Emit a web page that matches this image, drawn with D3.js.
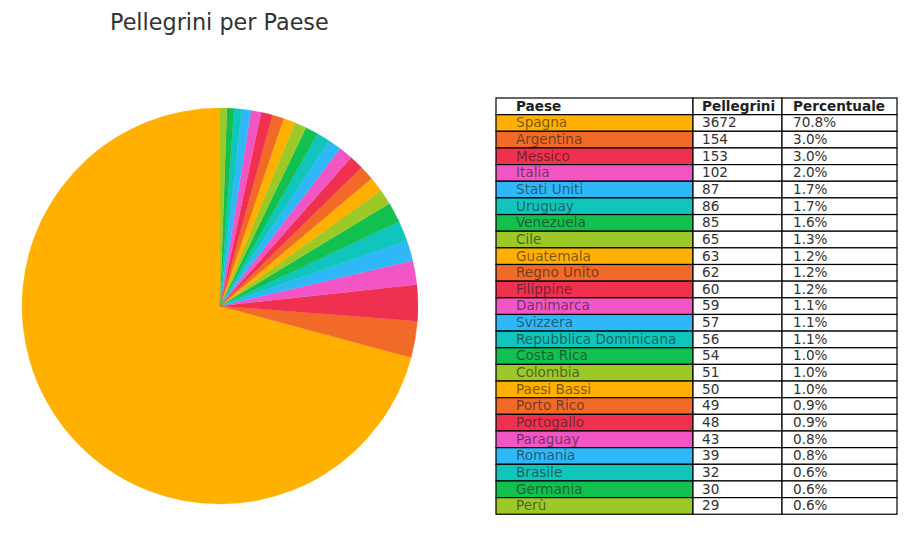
<!DOCTYPE html>
<html>
<head>
<meta charset="utf-8">
<script src="https://cdn.jsdelivr.net/npm/d3@7"></script>
<style>
  body { margin: 0; background: #fff; }
  svg text { font-family: "DejaVu Sans", sans-serif; }
</style>
</head>
<body>
<div id="chart"></div>
<script>
// chart data
var countries = ["Spagna", "Argentina", "Messico", "Italia", "Stati Uniti", "Uruguay",
  "Venezuela", "Cile", "Guatemala", "Regno Unito", "Filippine", "Danimarca", "Svizzera",
  "Repubblica Dominicana", "Costa Rica", "Colombia", "Paesi Bassi", "Porto Rico",
  "Portogallo", "Paraguay", "Romania", "Brasile", "Germania", "Perù"];
var pilgrims = [3672, 154, 153, 102, 87, 86, 85, 65, 63, 62, 60, 59, 57, 56, 54, 51,
  50, 49, 48, 43, 39, 32, 30, 29];
var percents = ["70.8%", "3.0%", "3.0%", "2.0%", "1.7%", "1.7%", "1.6%", "1.3%", "1.2%",
  "1.2%", "1.2%", "1.1%", "1.1%", "1.1%", "1.0%", "1.0%", "1.0%", "0.9%", "0.9%",
  "0.8%", "0.8%", "0.6%", "0.6%", "0.6%"];
var headers = ["Paese", "Pellegrini", "Percentuale"];
var palette = ["#ffb000", "#f26a28", "#f0304f", "#f255c4", "#2eb8f8", "#10c6bc", "#12c050", "#9cc828"];

var svgWidth = 914;
var svgHeight = 542;

var svg = d3.select("#chart")
  .append("svg")
  .attr("width", svgWidth)
  .attr("height", svgHeight);

var color = d3.scaleOrdinal()
  .domain(countries)
  .range(palette);

// title
svg.append("text")
  .attr("x", 110)
  .attr("y", 30)
  .attr("fill", "#333")
  .style("font-size", "22.3px")
  .text("Pellegrini per Paese");

// pie, counterclockwise from 12 o'clock
var rows = countries.map(function(c, i) {
  return { country: c, value: pilgrims[i], pct: percents[i] };
});

var pie = d3.pie()
  .sort(null)
  .value(d => d.value)
  .startAngle(0)
  .endAngle(-2 * Math.PI);

var arc = d3.arc()
  .innerRadius(0)
  .outerRadius(198);

var pieGroup = svg.append("g")
  .attr("transform", "translate(220, 306)");

pieGroup.selectAll("path")
  .data(pie(rows))
  .enter()
  .append("path")
  .attr("d", arc)
  .attr("fill", d => color(d.data.country))
  .attr("stroke", d => color(d.data.country))
  .attr("stroke-width", 0.3);

// table
var colX = [496, 693, 782, 897];
var textX = [516, 702, 793];
var tableTop = 98;
var rowH = 16.65;

var tableGroup = svg.append("g");

var rowScale = d3.scaleLinear()
  .domain([0, rows.length + 1])
  .range([tableTop, tableTop + rowH * (rows.length + 1)]);

// header
headers.forEach(function(h, j) {
  tableGroup.append("rect")
    .attr("x", colX[j])
    .attr("y", rowScale(0))
    .attr("width", colX[j + 1] - colX[j])
    .attr("height", rowH)
    .attr("fill", "#fff")
    .attr("stroke", "#000")
    .attr("stroke-width", 1.2);
  tableGroup.append("text")
    .attr("x", textX[j])
    .attr("y", rowScale(0) + rowH / 2)
    .attr("dy", "0.32em")
    .attr("fill", "#222")
    .style("font-size", "13.6px")
    .style("font-weight", "bold")
    .text(h);
});

var rowG = tableGroup.selectAll("g.row")
  .data(rows)
  .enter()
  .append("g")
  .classed("row", true)
  .attr("transform", (d, i) => `translate(0, ${rowScale(i + 1)})`);

rowG.each(function(d) {
  var g = d3.select(this);
  var cells = [d.country, d.value, d.pct];
  cells.forEach(function(v, j) {
    g.append("rect")
      .attr("x", colX[j])
      .attr("y", 0)
      .attr("width", colX[j + 1] - colX[j])
      .attr("height", rowH)
      .attr("fill", j === 0 ? color(d.country) : "#fff")
      .attr("stroke", "#000")
      .attr("stroke-width", 1.2);
    g.append("text")
      .attr("x", textX[j])
      .attr("y", rowH / 2)
      .attr("dy", "0.32em")
      .attr("fill", j === 0 ? "#1a1a1a" : "#333")
      .attr("fill-opacity", j === 0 ? 0.6 : 1)
      .style("font-size", "13.6px")
      .text(v);
  });
});
</script>
</body>
</html>
